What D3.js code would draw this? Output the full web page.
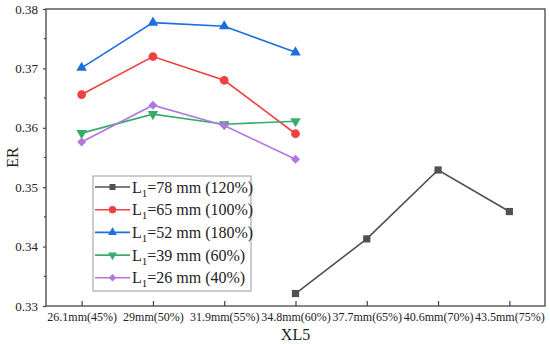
<!DOCTYPE html>
<html>
<head>
<meta charset="utf-8">
<script src="https://cdn.jsdelivr.net/npm/d3@7"></script>
<style>
  body { margin: 0; background: #fff; }
  text { font-family: "Liberation Serif", "Times New Roman", serif; fill: #222; }
</style>
</head>
<body>
<script>
var categories = ["26.1mm(45%)", "29mm(50%)", "31.9mm(55%)", "34.8mm(60%)", "37.7mm(65%)", "40.6mm(70%)", "43.5mm(75%)"];
var seriesNames = ["78 mm (120%)", "65 mm (100%)", "52 mm (180%)", "39 mm (60%)", "26 mm (40%)"];
var colors = ["#515151", "#F14040", "#1A6FDF", "#37AD6B", "#B177DE"];
var L78 = [null, null, null, 0.3321, 0.3413, 0.3529, 0.3459];
var L65 = [0.3656, 0.3720, 0.3680, 0.3590, null, null, null];
var L52 = [0.3701, 0.3777, 0.3771, 0.3727, null, null, null];
var L39 = [0.3591, 0.3623, 0.3606, 0.3611, null, null, null];
var L26 = [0.3576, 0.3638, 0.3604, 0.3547, null, null, null];
var yTicks = [0.33, 0.34, 0.35, 0.36, 0.37, 0.38];

var allSeries = [L78, L65, L52, L39, L26];
// diamond = square turned 45 degrees
var symbols = [d3.symbolSquare, d3.symbolCircle, d3.symbolTriangle, d3.symbolTriangle, d3.symbolSquare];
var rotations = [0, 0, 0, 180, 45];
var symSizes = [52, 60, 48, 48, 40];

var width = 550, height = 344,
    plotL = 46, plotR = 545, plotT = 9, plotB = 306;

var svg = d3.select("body").append("svg")
    .attr("width", width)
    .attr("height", height);

var x = d3.scalePoint().domain(categories).range([plotL, plotR]).padding(0.5);
var y = d3.scaleLinear().domain([0.33, 0.38]).range([plotB, plotT]);

// frame
svg.append("rect")
  .attr("x", plotL).attr("y", plotT)
  .attr("width", plotR - plotL).attr("height", plotB - plotT)
  .attr("fill", "none").attr("stroke", "#444").attr("stroke-width", 1.3);

// y axis
var yAxis = svg.append("g")
  .attr("transform", "translate(" + plotL + ",0)")
  .call(d3.axisLeft(y).tickValues(yTicks).tickSize(3).tickPadding(5).tickFormat(d3.format(".2f")));
yAxis.select(".domain").remove();
yAxis.selectAll("line").attr("stroke", "#444").attr("stroke-width", 1.2);
yAxis.selectAll("text").style("font-size", "13px").style("font-family", "Liberation Serif").attr("fill", "#222");

// y minor ticks
svg.append("g").selectAll("line")
  .data([0.335, 0.345, 0.355, 0.365, 0.375])
  .enter().append("line")
  .attr("x1", plotL - 2).attr("x2", plotL)
  .attr("y1", function(d) { return y(d); }).attr("y2", function(d) { return y(d); })
  .attr("stroke", "#444").attr("stroke-width", 1.2);

// x axis (ticks pointing inward)
var xAxis = svg.append("g")
  .attr("transform", "translate(0," + plotB + ")")
  .call(d3.axisBottom(x).tickSizeInner(-5).tickSizeOuter(0).tickPadding(6));
xAxis.select(".domain").remove();
xAxis.selectAll("line").attr("stroke", "#444").attr("stroke-width", 1.2);
xAxis.selectAll("text").style("font-size", "12px").style("font-family", "Liberation Serif").attr("fill", "#222");

// axis titles
svg.append("text")
  .attr("x", (plotL + plotR) / 2).attr("y", 340)
  .attr("text-anchor", "middle").style("font-size", "16px")
  .text("XL5");
svg.append("text")
  .attr("transform", "translate(18," + ((plotT + plotB) / 2) + ") rotate(-90)")
  .attr("text-anchor", "middle").style("font-size", "16px")
  .text("ER");

var line = d3.line()
  .defined(function(d) { return d.v !== null; })
  .x(function(d) { return x(d.c); })
  .y(function(d) { return y(d.v); });

allSeries.forEach(function(s, i) {
  var pts = s.map(function(v, j) { return {c: categories[j], v: v}; });
  svg.append("path")
    .datum(pts)
    .attr("fill", "none")
    .attr("stroke", colors[i])
    .attr("stroke-width", 1.6)
    .attr("d", line);
  svg.append("g").selectAll("path")
    .data(pts.filter(function(d) { return d.v !== null; }))
    .enter().append("path")
    .attr("d", d3.symbol().type(symbols[i]).size(symSizes[i]))
    .attr("transform", function(d) {
      return "translate(" + x(d.c) + "," + y(d.v) + ") rotate(" + rotations[i] + ")";
    })
    .attr("fill", colors[i]);
});

// legend
var lg = svg.append("g").attr("transform", "translate(93,176)");
lg.append("rect")
  .attr("width", 158).attr("height", 115)
  .attr("fill", "#fff").attr("stroke", "#999").attr("stroke-width", 1);
seriesNames.forEach(function(name, i) {
  var yy = 11 + i * 22.7;
  lg.append("line")
    .attr("x1", 2).attr("x2", 37).attr("y1", yy).attr("y2", yy)
    .attr("stroke", colors[i]).attr("stroke-width", 1.6);
  lg.append("path")
    .attr("d", d3.symbol().type(symbols[i]).size(symSizes[i] * 0.7))
    .attr("transform", "translate(19.5," + yy + ") rotate(" + rotations[i] + ")")
    .attr("fill", colors[i]);
  var t = lg.append("text")
    .attr("x", 39).attr("y", yy + 5.5)
    .style("font-size", "16px");
  t.append("tspan").text("L");
  t.append("tspan").attr("dy", 4).style("font-size", "11px").text("1");
  t.append("tspan").attr("dy", -4).text("=" + name);
});
</script>
</body>
</html>
